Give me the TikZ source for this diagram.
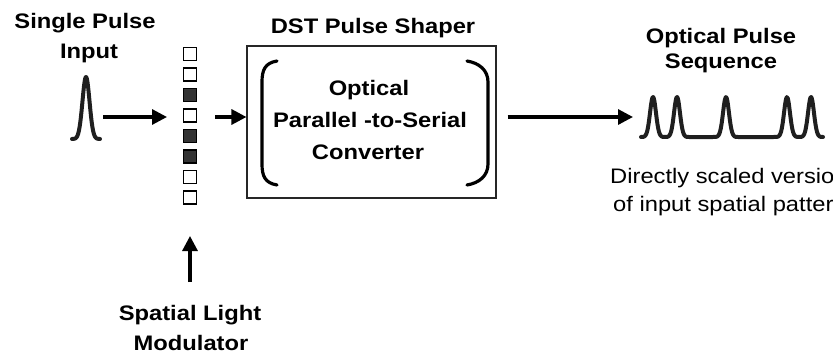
\documentclass[tikz,border=0pt]{standalone}
\usepackage{fontspec}
\setmainfont{Liberation Sans}[FakeStretch=1.13]
\usetikzlibrary{arrows.meta}
\begin{document}
\begin{tikzpicture}[x=1pt,y=-1pt,
  lbl/.style={inner sep=0pt, anchor=base, font=\fontsize{21}{25}\selectfont\bfseries},
  note/.style={inner sep=0pt, anchor=base west, font=\fontsize{21}{25}\selectfont},
  arr/.style={line width=3.2pt, -{Triangle[length=15pt,width=15pt]}},
  pulse/.style={line width=4pt, draw=black!88, line join=round, line cap=round},
  bracket/.style={line width=3.2pt, line cap=round},
  cell/.style={draw=black, line width=1.2pt, minimum size=13pt, inner sep=0pt, fill=white},
  oncell/.style={cell, fill=black!80}]
\useasboundingbox (0,0) rectangle (833,356);

% labels
\node[lbl] (t1) at (85,28) {Single Pulse};
\node[lbl] (t2) at (89,58) {Input};
\node[lbl] (t3) at (373,33) {DST Pulse Shaper};
\node[lbl] (t4) at (721,43) {Optical Pulse};
\node[lbl] (t5) at (721,68) {Sequence};
\node[lbl] (t6) at (190,320) {Spatial Light};
\node[lbl] (t7) at (191,350) {Modulator};
\node[lbl] (c1) at (369,95) {Optical};
\node[lbl] (c2) at (370,127) {Parallel -to-Serial};
\node[lbl] (c3) at (368,159) {Converter};
\begin{scope}
\clip (0,0) rectangle (833,356);
\node[note] (n1) at (610,183) {Directly scaled version};
\node[note] (n2) at (613,211) {of input spatial pattern};
\end{scope}

% input pulse
\draw[pulse] plot[domain=72:100, samples=61, smooth] (\x,{139-62*exp(-((\x-86)/5)^2)});
\coordinate (inp) at (103,117);

% SLM cells
\node[cell] (s1) at (190,54) {};
\node[cell] (s2) at (190,74.5) {};
\node[oncell] (s3) at (190,95) {};
\node[cell] (s4) at (190,115.5) {};
\node[oncell] (s5) at (190,136) {};
\node[oncell] (s6) at (190,156.5) {};
\node[cell] (s7) at (190,177) {};
\node[cell] (s8) at (190,197.5) {};

% pulse shaper box
\node[draw=black!85, line width=1.1pt, minimum width=249pt, minimum height=152pt, inner sep=0pt] (box) at (371.5,122) {};
\draw[bracket] (277,61) .. controls (265,63) and (262,70) .. (262,82) -- (262,164) .. controls (262,176) and (265,183) .. (277,185);
\draw[bracket] (467,61) .. controls (479,63) and (488,70) .. (488,82) -- (488,164) .. controls (488,176) and (479,183) .. (467,185);

% output pulse train
\draw[pulse] plot[domain=641:665, samples=41, smooth] (\x,{137-40*exp(-((\x-653)/4.2)^2)})
  -- plot[domain=665:689, samples=41, smooth] (\x,{137-40*exp(-((\x-677)/4.2)^2)})
  -- plot[domain=689:738, samples=61, smooth] (\x,{137-40*exp(-((\x-726)/4.2)^2)})
  -- plot[domain=738:799, samples=61, smooth] (\x,{137-40*exp(-((\x-787)/4.2)^2)})
  -- plot[domain=799:823, samples=41, smooth] (\x,{137-40*exp(-((\x-811)/4.2)^2)});

% connectors
\coordinate (a2s) at (215,117);
\coordinate (a3e) at (633,117);
\coordinate (slmlbl) at (190,282);
\coordinate (slmin) at (190,236);
\draw[arr] (inp) -- (167,117);
\draw[arr] (a2s) -- (box.west |- a2s);
\draw[arr] (box.east |- a2s) ++(11,0) -- (a3e);
\draw[arr] (slmlbl) -- (slmin);
\end{tikzpicture}
\end{document}
